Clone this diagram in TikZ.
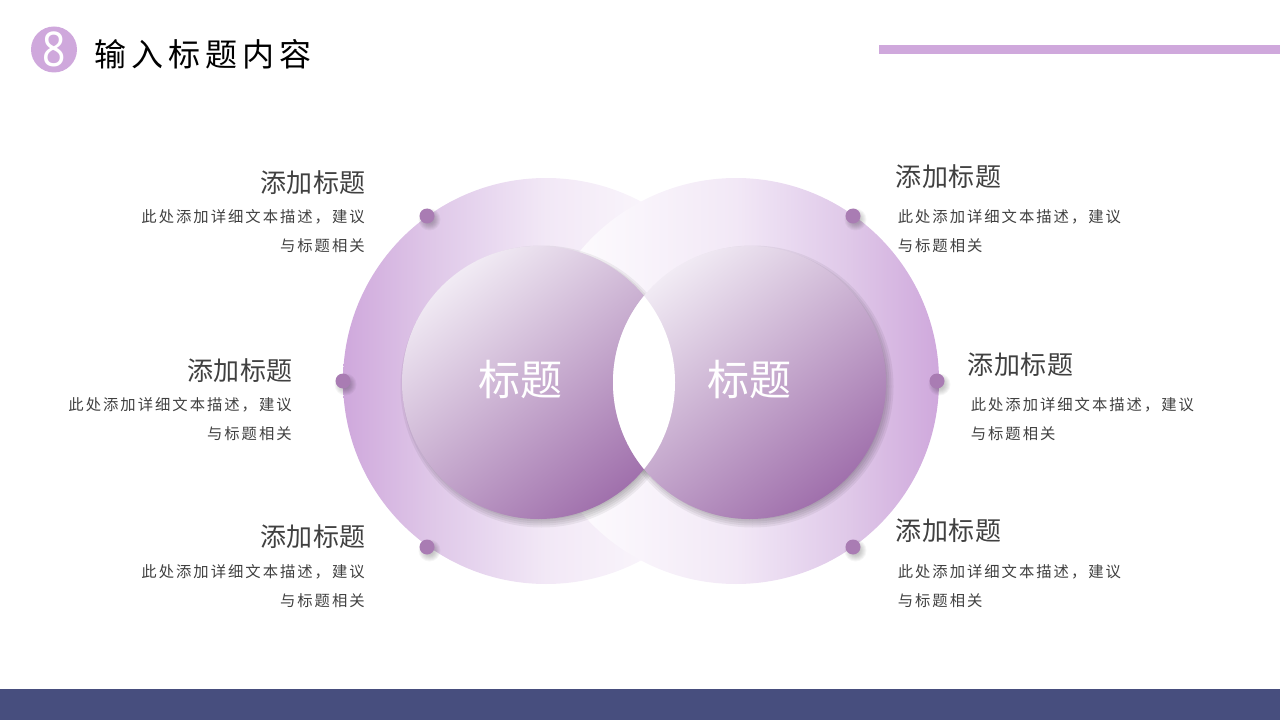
\documentclass[tikz,border=0pt]{standalone}
\usepackage{fontspec}
\usetikzlibrary{positioning}
\setmainfont{Noto Sans}
\newfontfamily\cjkplain{Noto Sans CJK SC}
\newfontfamily\cjktitle[LetterSpace=16]{Noto Sans CJK SC}
\newfontfamily\cjkhead[LetterSpace=2]{Noto Sans CJK SC}
\newfontfamily\cjkbody[LetterSpace=13]{Noto Sans CJK SC}
\definecolor{lilac}{HTML}{CFA8DC}
\definecolor{plum}{HTML}{A97CB3}
\definecolor{paleplum}{HTML}{F1EBF4}
\definecolor{deepplum}{HTML}{A070AC}
\definecolor{navybar}{HTML}{474E7E}
\definecolor{inktext}{HTML}{404040}
\pgfdeclarehorizontalshading{ringfade}{100bp}{
	color(0bp)=(lilac); color(25bp)=(lilac);
	rgb(36.1bp)=(.875,.784,.910); rgb(42.2bp)=(.906,.839,.937);
	rgb(50bp)=(.949,.910,.965); rgb(61.9bp)=(.976,.957,.984);
	color(75bp)=(white); color(100bp)=(white)}
\begin{document}
\begin{tikzpicture}[x=0.75pt,y=-0.75pt,
	ringL/.style={circle, minimum size=304.5pt, inner sep=0, draw=none, shading=ringfade},
	ringR/.style={circle, minimum size=304.5pt, inner sep=0, draw=none, shading=ringfade, shading angle=180},
	disc/.style={circle, minimum size=204.75pt, inner sep=0, draw=none, top color=paleplum, bottom color=deepplum, shading angle=38},
	dot/.style={circle, minimum size=11.25pt, inner sep=0, draw=none, fill=plum},
	discname/.style={text=white, inner sep=0, font={\cjkplain\fontsize{31.5}{36}\selectfont}},
	heading/.style={text=inktext, inner sep=0, font={\cjkhead\fontsize{19.5}{24}\selectfont}},
	bodytext/.style={text=inktext, inner sep=0, font={\cjkbody\fontsize{11.5}{21.75}\selectfont}}]

	\useasboundingbox (0,0) rectangle (1280,720);

	% header and footer
	\node [circle, minimum size=34.5pt, inner sep=0, fill=lilac] (badge) at (54,49.5) {};
	\node [inner sep=0, text=white, xscale=.85, font={\fontsize{36}{40}\selectfont}] (badgenum) at (54,49.5) {8};
	\node [anchor=west, inner sep=0, text=black, font={\cjktitle\fontsize{24}{28}\selectfont}] (title) at (94,54) {输入标题内容};
	\fill [lilac] (879,45) rectangle (1280,54);
	\fill [navybar] (0,689) rectangle (1280,720);

	% rings
	\node [ringL] (outerL) at (546,381) {};
	\node [ringR] (outerR) at (736,381) {};

	% soft shadows first, then discs, white lens on top
	\foreach \r in {131,133,...,141} {
		\fill [black, opacity=.055] (541.5,386.5) circle (\r);
		\fill [black, opacity=.055] (752.5,386.5) circle (\r);
	}
	\node [disc] (discL) at (538.5,382.5) {};
	\node [disc] (discR) at (749.5,382.5) {};
	\begin{scope}
	\clip (discL.center) circle (136.5);
	\fill [white] (discR.center) circle (136.5);
	\end{scope}
	\node [discname] (nameL) at (520.5,380) {标题};
	\node [discname] (nameR) at (749,380) {标题};

	% dots
	\foreach \n/\x/\y in {TL/427/216,ML/343/381,BL/427/547,TR/853/216,MR/937/381,BR/853/547} {
		\foreach \r in {5,6,...,11}
			\fill [black, opacity=.035] (\x+2.5,\y+3.5) circle (\r);
		\node [dot] (dot\n) at (\x,\y) {};
	}

	% left labels
	\node [heading,anchor=east] (headTL) at (366,182.5) {添加标题};
	\node [bodytext,align=right,anchor=east] (textTL) at (365,231) {此处添加详细文本描述，建议\\与标题相关};
	\node [heading,anchor=east] (headML) at (293,370.5) {添加标题};
	\node [bodytext,align=right,anchor=east] (textML) at (292,419) {此处添加详细文本描述，建议\\与标题相关};
	\node [heading,anchor=east] (headBL) at (366,536.5) {添加标题};
	\node [bodytext,align=right,anchor=east] (textBL) at (365,586) {此处添加详细文本描述，建议\\与标题相关};

	% right labels
	\node [heading,anchor=west] (headTR) at (895.5,176.5) {添加标题};
	\node [bodytext,align=left,anchor=west] (textTR) at (897.5,231) {此处添加详细文本描述，建议\\与标题相关};
	\node [heading,anchor=west] (headMR) at (967.5,364.5) {添加标题};
	\node [bodytext,align=left,anchor=west] (textMR) at (970.5,419) {此处添加详细文本描述，建议\\与标题相关};
	\node [heading,anchor=west] (headBR) at (895.5,530.5) {添加标题};
	\node [bodytext,align=left,anchor=west] (textBR) at (897.5,586) {此处添加详细文本描述，建议\\与标题相关};
\end{tikzpicture}
\end{document}
